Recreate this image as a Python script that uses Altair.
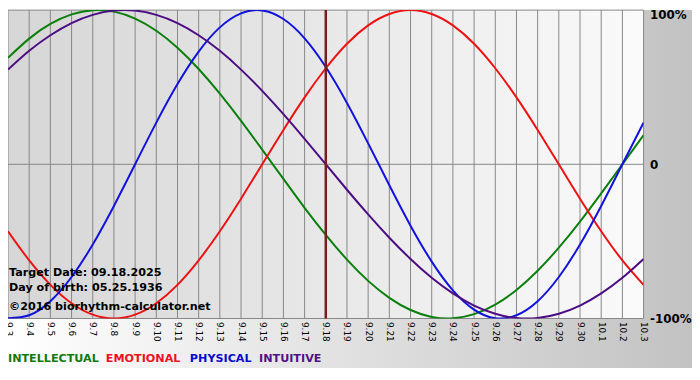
import altair as alt
import pandas as pd

# ---- data ----
days = ["9.3", "9.4", "9.5", "9.6", "9.7", "9.8", "9.9", "9.10", "9.11", "9.12",
        "9.13", "9.14", "9.15", "9.16", "9.17", "9.18", "9.19", "9.20", "9.21", "9.22",
        "9.23", "9.24", "9.25", "9.26", "9.27", "9.28", "9.29", "9.30", "10.1", "10.2", "10.3"]

intellectual = [0.690, 0.815, 0.910, 0.972, 0.999, 0.990, 0.945, 0.866, 0.756, 0.618, 0.458,
                0.282, 0.095, -0.095, -0.282, -0.458, -0.618, -0.756, -0.866, -0.945, -0.990,
                -0.999, -0.972, -0.910, -0.815, -0.690, -0.541, -0.372, -0.189, 0.000, 0.189]
emotional = [-0.434, -0.623, -0.782, -0.901, -0.975, -1.000, -0.975, -0.901, -0.782, -0.623,
             -0.434, -0.223, 0.000, 0.223, 0.434, 0.623, 0.782, 0.901, 0.975, 1.000, 0.975,
             0.901, 0.782, 0.623, 0.434, 0.223, 0.000, -0.223, -0.434, -0.623, -0.782]
physical = [-0.998, -0.979, -0.888, -0.731, -0.520, -0.270, 0.000, 0.270, 0.520, 0.731, 0.888,
            0.979, 0.998, 0.942, 0.817, 0.631, 0.398, 0.136, -0.136, -0.398, -0.631, -0.817,
            -0.942, -0.998, -0.979, -0.888, -0.731, -0.520, -0.270, 0.000, 0.270]
intuitive = [0.614, 0.736, 0.837, 0.916, 0.969, 0.997, 0.997, 0.969, 0.916, 0.837, 0.736, 0.614,
             0.476, 0.325, 0.165, 0.000, -0.165, -0.325, -0.476, -0.614, -0.736, -0.837, -0.916,
             -0.969, -0.997, -0.997, -0.969, -0.916, -0.837, -0.736, -0.614]

series_names = ["INTELLECTUAL", "EMOTIONAL", "PHYSICAL", "INTUITIVE"]
series_values = [intellectual, emotional, physical, intuitive]
series_colors = ["#0b7f0b", "#ee1111", "#1212dd", "#4c0d84"]
legend_colors = ["#107a10", "#ee1122", "#0a0ad0", "#52108a"]

target_day = "9.18"
y_ticks = [-1, 0, 1]
annotations = ["Target Date: 09.18.2025", "Day of birth: 05.25.1936", "©2016 biorhythm-calculator.net"]

# ---- layout / style ----
W, H = 643, 312
PAD_R, PAD_B = 49, 52
FONT = "DejaVu Sans"
TXT_SIZE = 11.3

rows = []
for name, vals in zip(series_names, series_values):
    for d, v in zip(days, vals):
        rows.append({"day": d, "series": name, "value": v})
df = pd.DataFrame(rows)

xscale = alt.Scale(type="point", domain=days, padding=0)
yscale = alt.Scale(domain=[-1, 1], nice=False, zero=False)

one = pd.DataFrame({"k": [0]})


def grad(c0, c1):
    return alt.LinearGradient(
        gradient="linear", x1=0, y1=0, x2=1, y2=0,
        stops=[alt.GradientStop(offset=0, color=c0), alt.GradientStop(offset=1, color=c1)],
    )


x_axis = alt.Axis(
    title=None, orient="bottom", labelAngle=90, labelAlign="left", labelBaseline="middle",
    labelPadding=3, ticks=False, domain=False, grid=False, labelFont=FONT, labelFontSize=9,
    labelColor="#000000", labelOverlap=False, zindex=2)
y_axis = alt.Axis(
    title=None, orient="right", values=y_ticks, ticks=False, domain=False, grid=False,
    labelExpr="datum.value == 1 ? '100%' : (datum.value == 0 ? '0' : '-100%')",
    labelFont=FONT, labelFontSize=12, labelFontWeight="bold", labelColor="#000000",
    labelAlign="left",
    labelBaseline={"condition": {"test": "datum.value == 1", "value": "top"}, "value": "middle"},
    labelPadding=6, labelOverlap=False, zindex=2)

page_bg = alt.Chart(one).mark_rect(fill=grad("#ffffff", "#c2c2c2"), strokeWidth=0).encode(
    x=alt.value(0), x2=alt.value(W + PAD_R), y=alt.value(0), y2=alt.value(H + PAD_B - 2)
)
plot_bg = alt.Chart(one).mark_rect(fill=grad("#d6d6d6", "#fafafa"), strokeWidth=0).encode(
    x=alt.value(0), x2=alt.value(W), y=alt.value(0), y2=alt.value(H)
)

vgrid = alt.Chart(pd.DataFrame({"day": days})).mark_rule(color="#878787", strokeWidth=1).encode(
    x=alt.X("day:O", scale=xscale, sort=None, axis=x_axis)
)
hgrid = alt.Chart(pd.DataFrame({"v": y_ticks})).mark_rule(color="#878787", strokeWidth=1).encode(
    y=alt.Y("v:Q", scale=yscale, axis=y_axis)
)

lines = alt.Chart(df).mark_line(strokeWidth=2, interpolate="natural", clip=True).encode(
    x=alt.X("day:O", scale=xscale, sort=None),
    y=alt.Y("value:Q", scale=yscale),
    color=alt.Color("series:N", scale=alt.Scale(domain=series_names, range=series_colors), legend=None),
    detail="series:N",
)

target = alt.Chart(pd.DataFrame({"day": [target_day]})).mark_rule(
    color="#7a1c1c", strokeWidth=2.5).encode(x=alt.X("day:O", scale=xscale, sort=None))

layers = [page_bg, plot_bg, vgrid, hgrid, lines, target]

ann_y = [269, 284, 303]
for txt, yy in zip(annotations, ann_y):
    layers.append(alt.Chart(pd.DataFrame({"t": [txt]})).mark_text(
        align="left", baseline="alphabetic", font=FONT, fontSize=TXT_SIZE, fontWeight="bold",
        color="#000000"
    ).encode(text="t:N", x=alt.value(1), y=alt.value(yy)))

legend_x = [0, 99, 184, 254]
for name, col, lx in zip(series_names, legend_colors, legend_x):
    layers.append(alt.Chart(pd.DataFrame({"t": [name]})).mark_text(
        align="left", baseline="middle", font=FONT, fontSize=TXT_SIZE, fontWeight="bold", color=col
    ).encode(text="t:N", x=alt.value(lx), y=alt.value(353)))

chart = alt.layer(*layers).properties(
    width=W, height=H,
    autosize=alt.AutoSizeParams(type="none"),
    padding={"left": 0, "top": 0, "right": PAD_R, "bottom": PAD_B},
    background="#ffffff",
).configure_view(stroke=None)

chart.save("out.html", embed_options={"renderer": "svg", "actions": False})
